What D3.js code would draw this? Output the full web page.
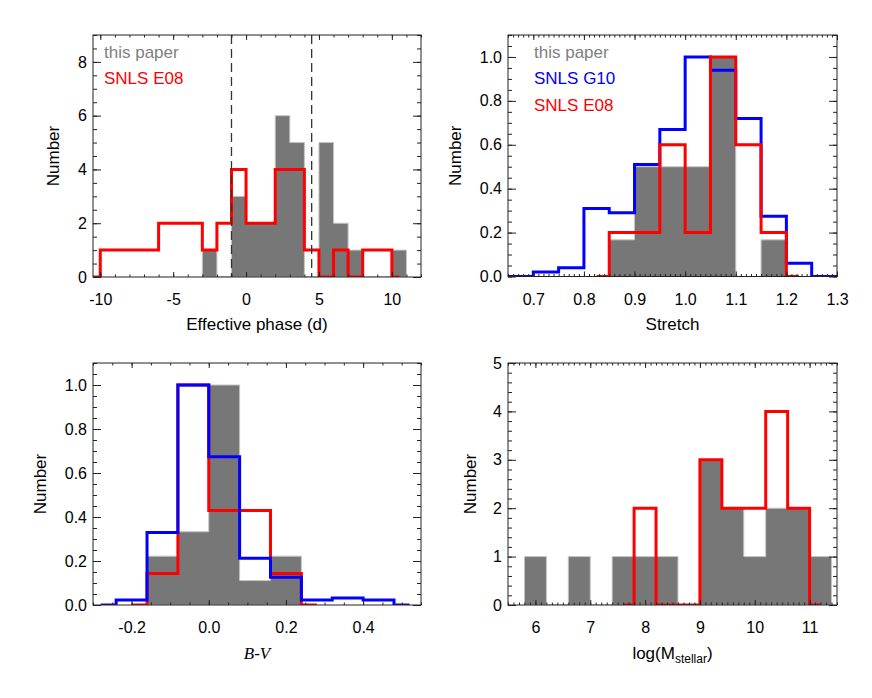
<!DOCTYPE html>
<html>
<head>
<meta charset="utf-8">
<script src="https://cdn.jsdelivr.net/npm/d3@7"></script>
<style>
  body { margin: 0; background: #fff; }
  svg { font-family: 'Liberation Sans', Arial, sans-serif; }
</style>
</head>
<body>
<div id="root"></div>
<script>
const width = 872;
const height = 698;

// Effective phase (top left)
const phaseBins = [-3, -2, -1, 0, 1, 2, 3, 4, 5, 6, 7, 8, 9, 10];
const phaseThisPaper = [1, 0, 3, 2, 2, 6, 5, 0, 5, 2, 1, 0, 0, 1];
const phaseE08Centers = [-10.5, -9.5, -8.5, -7.5, -6.5, -5.5, -4.5, -3.5, -2.5, -1.5, -0.5,
  0.5, 1.5, 2.5, 3.5, 4.5, 5.5, 6.5, 7.5, 8.5, 9.5, 10.5];
const phaseE08 = [0, 1, 1, 1, 1, 2, 2, 2, 1, 2, 4, 2, 2, 4, 4, 1, 0, 1, 0, 1, 1, 0];
const phaseCuts = [-1, 4.5];

// Stretch (top right)
const stretchBins = [0.85, 0.9, 0.95, 1.0, 1.05, 1.1, 1.15];
const stretchThisPaper = [0.167, 0.5, 0.5, 0.5, 1.0, 0, 0.167];
const stretchG10Centers = [0.625, 0.675, 0.725, 0.775, 0.825, 0.875, 0.925, 0.975,
  1.025, 1.075, 1.125, 1.175, 1.225, 1.275, 1.325];
const stretchG10 = [0, 0, 0.02, 0.04, 0.31, 0.29, 0.51, 0.67, 1.0, 0.94, 0.72, 0.275, 0.06, 0, 0];
const stretchE08Centers = [0.825, 0.875, 0.925, 0.975, 1.025, 1.075, 1.125, 1.175, 1.225];
const stretchE08 = [0, 0.2, 0.2, 0.6, 0.2, 1.0, 0.6, 0.2, 0];

// B-V colour (bottom left)
const colourBins = [-0.16, -0.08, 0, 0.08, 0.16];
const colourThisPaper = [0.222, 0.333, 1.0, 0.111, 0.222];
const colourG10Centers = [-0.28, -0.2, -0.12, -0.04, 0.04, 0.12, 0.2, 0.28, 0.36, 0.44, 0.52];
const colourG10 = [0, 0.023, 0.33, 1.0, 0.674, 0.212, 0.126, 0.023, 0.032, 0.023, 0];
const colourE08Centers = [-0.2, -0.12, -0.04, 0.04, 0.12, 0.2, 0.28];
const colourE08 = [0, 0.143, 1.0, 0.429, 0.429, 0.143, 0];

// Host stellar mass (bottom right)
const massBins = [5.8, 6.2, 6.6, 7.0, 7.4, 7.8, 8.2, 8.6, 9.0, 9.4, 9.8, 10.2, 10.6, 11.0];
const massThisPaper = [1, 0, 1, 0, 1, 1, 1, 0, 3, 2, 1, 2, 2, 1];
const massE08Centers = [7.6, 8.0, 8.4, 8.8, 9.2, 9.6, 10.0, 10.4, 10.8, 11.2];
const massE08 = [0, 2, 0, 0, 3, 2, 2, 4, 2, 0];

// Tick labels
const phaseXTicks = [-10, -5, 0, 5, 10];
const phaseYTicks = [0, 2, 4, 6, 8];
const stretchXTicks = [0.7, 0.8, 0.9, 1.0, 1.1, 1.2, 1.3];
const normYTicks = [0, 0.2, 0.4, 0.6, 0.8, 1.0];
const colourXTicks = [-0.2, 0, 0.2, 0.4];
const massXTicks = [6, 7, 8, 9, 10, 11];
const massYTicks = [0, 1, 2, 3, 4, 5];

const grayFill = '#777777';
const grayEdge = '#c4c4c4';
const red = '#ff0000';
const blue = '#0000ff';

const svg = d3
  .select('#root')
  .append('svg')
  .attr('width', width)
  .attr('height', height);

function panel(id, box, xDomain, yDomain) {
  const x = d3.scaleLinear().domain(xDomain).range([box.left, box.left + box.width]);
  const y = d3.scaleLinear().domain(yDomain).range([box.top + box.height, box.top]);
  const g = svg.append('g').attr('id', id);
  g.append('clipPath')
    .attr('id', id + '-clip')
    .append('rect')
    .attr('x', box.left)
    .attr('y', box.top)
    .attr('width', box.width)
    .attr('height', box.height);
  const plot = g.append('g').attr('clip-path', `url(#${id}-clip)`);
  return { g, plot, x, y, box };
}

// filled histogram drawn as one stepped shape, like a polyfill
function bars(p, edges, values, binWidth) {
  const pts = d3.zip(edges, values);
  pts.push([edges[edges.length - 1] + binWidth, values[values.length - 1]]);
  const area = d3
    .area()
    .x((d) => p.x(d[0]))
    .y0(p.y(0))
    .y1((d) => p.y(d[1]))
    .curve(d3.curveStepAfter);
  p.plot
    .append('path')
    .datum(pts)
    .attr('d', area)
    .attr('fill', grayFill)
    .attr('stroke', grayEdge)
    .attr('stroke-width', 1);
}

function steps(p, centers, values, color) {
  const line = d3
    .line()
    .x((d) => p.x(d[0]))
    .y((d) => p.y(d[1]))
    .curve(d3.curveStep);
  p.plot
    .append('path')
    .datum(d3.zip(centers, values))
    .attr('d', line)
    .attr('fill', 'none')
    .attr('stroke', color)
    .attr('stroke-width', 3)
    .attr('stroke-linejoin', 'miter');
}

function addAxis(g, axisFn, scale, values, size, fmt, transform, padding) {
  const a = axisFn(scale)
    .tickValues(values)
    .tickSize(-size)
    .tickSizeOuter(0)
    .tickPadding(padding || 3)
    .tickFormat(fmt || (() => ''));
  const sel = g.append('g').attr('transform', transform).call(a);
  sel.select('.domain').remove();
  sel.attr('font-family', null).attr('font-size', 16);
  sel.selectAll('line').attr('stroke', '#222');
  sel.selectAll('text').attr('fill', '#000');
}

function axes(p, ax) {
  const { left, top, width: w, height: h } = p.box;
  const bottom = top + h;
  const right = left + w;
  addAxis(p.g, d3.axisBottom, p.x, ax.xMinor, 2.5, null, `translate(0,${bottom})`);
  addAxis(p.g, d3.axisBottom, p.x, ax.xMajor, 5, ax.xFormat, `translate(0,${bottom})`, 17);
  addAxis(p.g, d3.axisTop, p.x, ax.xMinor, 2.5, null, `translate(0,${top})`);
  addAxis(p.g, d3.axisTop, p.x, ax.xMajor, 5, null, `translate(0,${top})`);
  addAxis(p.g, d3.axisLeft, p.y, ax.yMinor, 4, null, `translate(${left},0)`);
  addAxis(p.g, d3.axisLeft, p.y, ax.yMajor, 8, ax.yFormat, `translate(${left},0)`, 6);
  addAxis(p.g, d3.axisRight, p.y, ax.yMinor, 4, null, `translate(${right},0)`);
  addAxis(p.g, d3.axisRight, p.y, ax.yMajor, 8, null, `translate(${right},0)`);

  p.g
    .append('rect')
    .attr('x', left)
    .attr('y', top)
    .attr('width', w)
    .attr('height', h)
    .attr('fill', 'none')
    .attr('stroke', '#222')
    .attr('stroke-width', 1);

  p.g
    .append('text')
    .attr('transform', `translate(${ax.yTitleX},${top + h / 2}) rotate(-90)`)
    .attr('text-anchor', 'middle')
    .attr('dy', '0.35em')
    .attr('font-size', 17)
    .text('Number');
}

function legend(p, items, dx) {
  items.forEach((item, i) => {
    p.g
      .append('text')
      .attr('x', p.box.left + dx)
      .attr('y', p.box.top + 22.5 + i * 26.5)
      .attr('font-size', 17)
      .attr('fill', item[1])
      .text(item[0]);
  });
}

// plain hyphen for negatives, as in the original figure
const fmtInt = (d) => String(d);
const fmt1 = (d) => d.toFixed(1);

// Top left: effective phase

const p1 = panel('phase', { left: 93, top: 35, width: 328, height: 242 }, [-10.5, 12], [0, 9]);
bars(p1, phaseBins, phaseThisPaper, 1);
steps(p1, phaseE08Centers, phaseE08, red);
p1.plot
  .selectAll(null)
  .data(phaseCuts)
  .enter()
  .append('line')
  .attr('x1', (d) => p1.x(d))
  .attr('x2', (d) => p1.x(d))
  .attr('y1', p1.y(9))
  .attr('y2', p1.y(0))
  .attr('stroke', '#333')
  .attr('stroke-width', 1.3)
  .attr('stroke-dasharray', '9,5');
axes(p1, {
  xMajor: phaseXTicks,
  xMinor: d3.range(-10, 13),
  xFormat: fmtInt,
  yMajor: phaseYTicks,
  yMinor: d3.range(0, 19).map((d) => d * 0.5),
  yFormat: fmtInt,
  yTitleX: 53,
});
legend(p1, [['this paper', '#808080'], ['SNLS E08', red]], 11);
p1.g
  .append('text')
  .attr('x', 257)
  .attr('y', 330)
  .attr('text-anchor', 'middle')
  .attr('font-size', 17)
  .text('Effective phase (d)');

// Top right: stretch

const p2 = panel('stretch', { left: 508, top: 35, width: 329, height: 241.5 }, [0.65, 1.3], [0, 1.1]);
bars(p2, stretchBins, stretchThisPaper, 0.05);
steps(p2, stretchG10Centers, stretchG10, blue);
steps(p2, stretchE08Centers, stretchE08, red);
axes(p2, {
  xMajor: stretchXTicks,
  xMinor: d3.range(65, 131).map((d) => d / 100),
  xFormat: fmt1,
  yMajor: normYTicks,
  yMinor: d3.range(0, 23).map((d) => d * 0.05),
  yFormat: fmt1,
  yTitleX: 455,
});
legend(p2, [['this paper', '#808080'], ['SNLS G10', blue], ['SNLS E08', red]], 26);
p2.g
  .append('text')
  .attr('x', 672.5)
  .attr('y', 330)
  .attr('text-anchor', 'middle')
  .attr('font-size', 17)
  .text('Stretch');

// Bottom left: B-V

const p3 = panel('colour', { left: 93, top: 363, width: 328, height: 242 }, [-0.3, 0.55], [0, 1.1]);
bars(p3, colourBins, colourThisPaper, 0.08);
steps(p3, colourE08Centers, colourE08, red);
steps(p3, colourG10Centers, colourG10, blue);
axes(p3, {
  xMajor: colourXTicks,
  xMinor: d3.range(-6, 12).map((d) => d * 0.05),
  xFormat: fmt1,
  yMajor: normYTicks,
  yMinor: d3.range(0, 23).map((d) => d * 0.05),
  yFormat: fmt1,
  yTitleX: 40,
});
p3.g
  .append('text')
  .attr('x', 257)
  .attr('y', 659)
  .attr('text-anchor', 'middle')
  .attr('font-size', 17)
  .attr('font-family', "'Liberation Serif', 'Times New Roman', serif")
  .attr('font-style', 'italic')
  .text('B-V');

// Bottom right: stellar mass

const p4 = panel('mass', { left: 508, top: 363, width: 329, height: 242 }, [5.5, 11.5], [0, 5]);
bars(p4, massBins, massThisPaper, 0.4);
steps(p4, massE08Centers, massE08, red);
axes(p4, {
  xMajor: massXTicks,
  xMinor: d3.range(55, 116).map((d) => d / 10),
  xFormat: fmtInt,
  yMajor: massYTicks,
  yMinor: d3.range(0, 26).map((d) => d * 0.2),
  yFormat: fmtInt,
  yTitleX: 470,
});
const massTitle = p4.g
  .append('text')
  .attr('x', 672.5)
  .attr('y', 659)
  .attr('text-anchor', 'middle')
  .attr('font-size', 17);
massTitle.append('tspan').text('log(M');
massTitle.append('tspan').attr('font-size', 12).attr('dy', 4).text('stellar');
massTitle.append('tspan').attr('dy', -4).text(')');
</script>
</body>
</html>
